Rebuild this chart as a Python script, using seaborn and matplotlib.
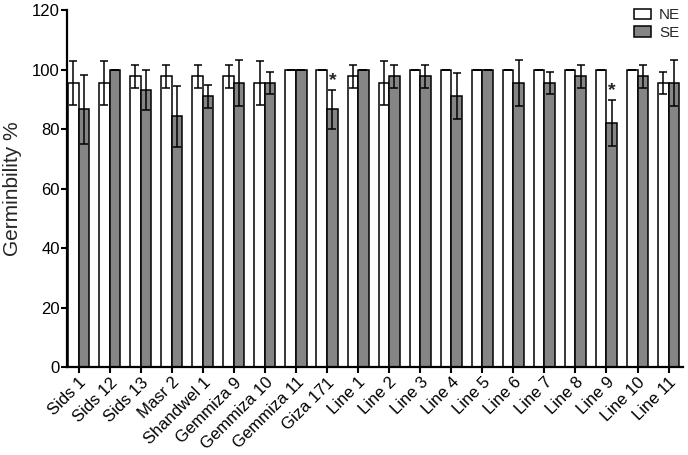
import numpy as np
import pandas as pd
import matplotlib
matplotlib.use("Agg")
import matplotlib.pyplot as plt
import seaborn as sns

# Germinability per cultivar / line, NE vs SE
cultivars = ['Sids 1', 'Sids 12', 'Sids 13', 'Masr 2', 'Shandwel 1', 'Gemmiza 9',
             'Gemmiza 10', 'Gemmiza 11', 'Giza 171', 'Line 1', 'Line 2', 'Line 3',
             'Line 4', 'Line 5', 'Line 6', 'Line 7', 'Line 8', 'Line 9', 'Line 10', 'Line 11']
ne_mean = [95.6, 95.6, 97.8, 97.8, 97.8, 97.8, 95.6, 100, 100, 97.8,
           95.6, 100, 100, 100, 100, 100, 100, 100, 100, 95.6]
ne_sd = [7.5, 7.5, 3.8, 3.8, 3.8, 3.8, 7.5, 0, 0, 3.8,
         7.5, 0, 0, 0, 0, 0, 0, 0, 0, 3.8]
se_mean = [86.7, 100, 93.3, 84.4, 91.1, 95.6, 95.6, 100, 86.7, 100,
           97.8, 97.8, 91.1, 100, 95.6, 95.6, 97.8, 82.2, 97.8, 95.6]
se_sd = [11.5, 0, 6.7, 10.2, 3.8, 7.7, 3.8, 0, 6.7, 0,
         3.8, 3.8, 7.7, 0, 7.7, 3.8, 3.8, 7.7, 3.8, 7.7]
significant = ['Giza 171', 'Line 9']

df = pd.DataFrame({
    'Cultivar': cultivars * 2,
    'Treatment': ['NE'] * len(cultivars) + ['SE'] * len(cultivars),
    'Germ': ne_mean + se_mean,
    'SD': ne_sd + se_sd,
})

sns.set_style("ticks")
plt.rcParams['font.family'] = ['Liberation Sans', 'DejaVu Sans']

fig = plt.figure(figsize=(6.88, 4.55), dpi=100)
ax = fig.add_axes([0.098, 0.193, 0.895, 0.784])

sns.barplot(data=df, x='Cultivar', y='Germ', hue='Treatment', order=cultivars,
            hue_order=['NE', 'SE'], palette={'NE': 'white', 'SE': '#858585'},
            width=0.68, gap=0, errorbar=None, edgecolor='black', linewidth=1.1,
            ax=ax)

# error bars (mean ± SD) at bar centres
for cont, trt in zip(ax.containers, ['NE', 'SE']):
    sub = df[df['Treatment'] == trt].set_index('Cultivar').loc[cultivars]
    xs = [p.get_x() + p.get_width() / 2 for p in cont.patches]
    ax.errorbar(xs, sub['Germ'], yerr=sub['SD'], fmt='none', ecolor='black',
                elinewidth=1.1, capsize=3, capthick=1.1)
    if trt == 'SE':
        for x, (name, row) in zip(xs, sub.iterrows()):
            if name in significant:
                ax.text(x, row['Germ'] + row['SD'] + 0.3, '*', ha='center',
                        va='bottom', fontsize=14, fontweight='bold')

ax.set_xlim(-0.36, 19.47)
ax.set_ylim(0, 120)
ax.set_yticks([0, 20, 40, 60, 80, 100, 120])
ax.set_xlabel('')
ax.set_ylabel('Germinbility %', fontsize=15)
ax.yaxis.set_label_coords(-0.073, 0.5)
ax.tick_params(axis='both', labelsize=12, width=1.5, length=4, pad=1.5,
               colors='black')
plt.setp(ax.get_xticklabels(), rotation=45, ha='right', rotation_mode='anchor')
for s in ['left', 'bottom']:
    ax.spines[s].set_linewidth(1.6)
    ax.spines[s].set_color('black')
sns.despine(ax=ax)

leg = ax.legend(loc='upper right', bbox_to_anchor=(680 / 688, 1 - 8 / 455),
                bbox_transform=fig.transFigure, frameon=False,
                fontsize=11, handlelength=1.15, handleheight=0.65,
                handletextpad=0.5, labelspacing=0.25, borderpad=0,
                borderaxespad=0)

fig.savefig('out.png', dpi=100)
